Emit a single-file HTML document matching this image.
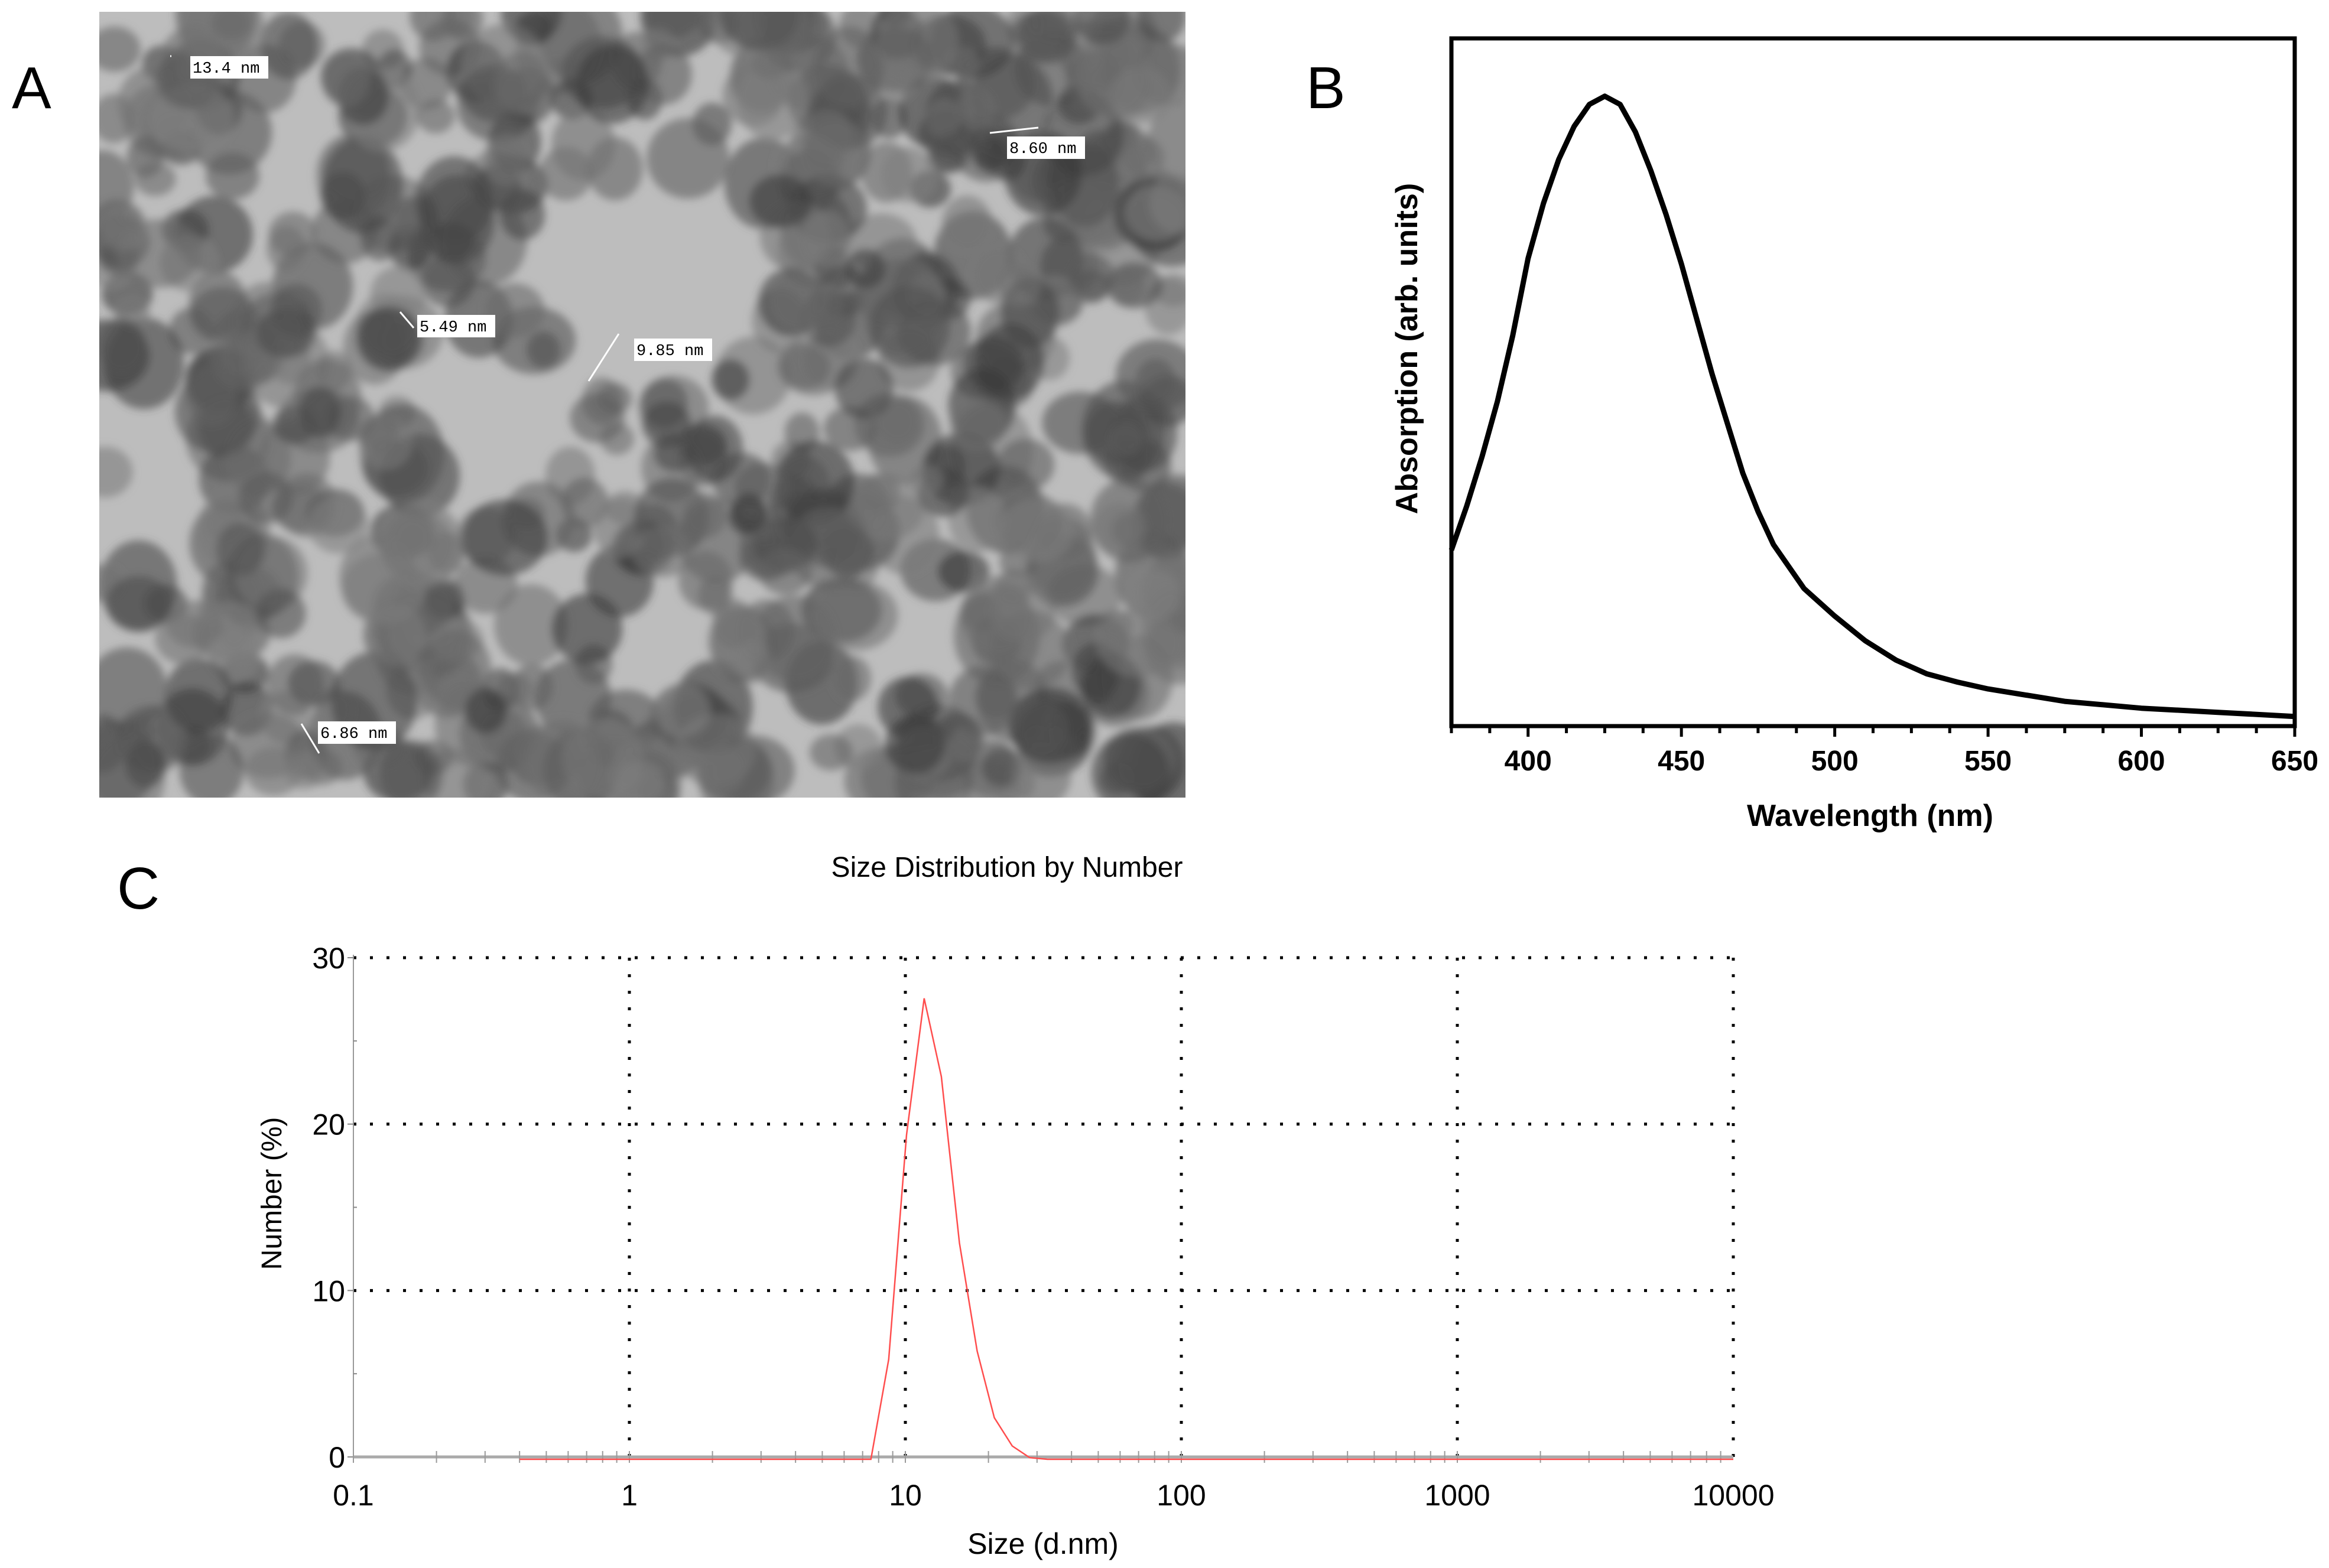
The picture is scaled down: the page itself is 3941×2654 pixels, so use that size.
<!DOCTYPE html>
<html><head><meta charset="utf-8"><style>
html,body{margin:0;padding:0;background:#fff;}
svg{display:block;}
</style></head><body>
<svg id="fig" width="3941" height="2654" viewBox="0 0 3941 2654" xmlns="http://www.w3.org/2000/svg">
<defs>
<filter id="blur" x="-10%" y="-10%" width="120%" height="120%"><feGaussianBlur stdDeviation="7"/></filter>
<clipPath id="photoClip"><rect x="168" y="20" width="1838" height="1330"/></clipPath>
</defs>
<text x="20" y="183" font-family="Liberation Sans, sans-serif" font-size="100">A</text>
<text x="2210" y="183" font-family="Liberation Sans, sans-serif" font-size="100">B</text>
<text x="198" y="1538" font-family="Liberation Sans, sans-serif" font-size="100">C</text>
<g id="photo" clip-path="url(#photoClip)">
<rect x="168" y="20" width="1838" height="1330" fill="#bdbdbd"/>
<g id="blobs" filter="url(#blur)"></g>
<g id="marks"></g>
</g>
<g id="chartB"></g>
<g id="chartC"></g>
</svg>
<script>
// ---------- Chart B data ----------
const wavelengths = [375,380,385,390,395,400,405,410,415,420,425,430,435,440,445,450,455,460,465,470,475,480,490,500,510,520,530,540,550,575,600,625,650];
const absorption = [25.6,32,39.2,47.2,56.8,68,76,82.4,87.2,90.4,91.6,90.4,86.4,80.8,74.4,67.2,59.2,51.2,44,36.8,31.2,26.4,20,16,12.4,9.6,7.6,6.4,5.4,3.6,2.6,2,1.4];
const bTicks = [400,450,500,550,600,650];
// ---------- Chart C data ----------
const sizes = [0.4,7.5,8.7,10.1,11.7,13.5,15.7,18.2,21,24.4,28.2,32.7,40,10000];
const numberPct = [0,0,6,19.5,27.7,23,13,6.5,2.5,0.8,0.1,0,0,0];
const cXTicks = [0.1,1,10,100,1000,10000];
const cXTickLabels = ["0.1","1","10","100","1000","10000"];
const cYTicks = [0,10,20,30];
const cYMinor = [5,15,25];

const NS="http://www.w3.org/2000/svg";
function mk(tag,attrs,parent,text){const e=document.createElementNS(NS,tag);for(const k in attrs)e.setAttribute(k,attrs[k]);if(text!==undefined)e.textContent=text;parent.appendChild(e);return e;}

// ---------- TEM photo (decorative texture) ----------
(function(){
  const g=document.getElementById('blobs');
  let s=12345;function rnd(){s=(s*1103515245+12345)%2147483648;return s/2147483648;}
  const light=[[1105,480,220,200],[830,730,150,120],[276,840,100,150],[1130,1110,120,80],[1560,1100,90,70]];
  for(let i=0;i<650;i++){
    const cx=168+rnd()*1838, cy=20+rnd()*1330;
    let skip=false;
    for(const L of light){const dx=(cx-L[0])/L[2],dy=(cy-L[1])/L[3];if(dx*dx+dy*dy<1)skip=true;}
    if(skip)continue;
    const r=28+rnd()*45, v=Math.floor(55+rnd()*75);
    const e=mk('ellipse',{cx:cx,cy:cy,rx:r,ry:r*(0.8+rnd()*0.4),fill:`rgb(${v},${v},${v})`,'fill-opacity':0.6},g);
    
    
  }
  const m=document.getElementById('marks');
  const labels=[["13.4 nm",322,95,288,95,290,95],["8.60 nm",1704,231,1675,225,1757,216],["5.49 nm",706,533,677,528,700,555],["9.85 nm",1073,573,1047,565,996,645],["6.86 nm",538,1221,510,1225,540,1275]];
  labels.forEach(L=>{
    const l=mk('line',{x1:L[3],y1:L[4],x2:L[5],y2:L[6],stroke:'#fff','stroke-width':3},m);
    
    
    mk('rect',{x:L[1],y:L[2],width:132,height:38,fill:'#fff'},m);
    const t=mk('text',{x:L[1]+4,y:L[2]+28,'font-family':'Liberation Mono, monospace','font-size':27,fill:'#000'},m,L[0]);
    
    
  });
})();

// ---------- Chart B ----------
(function(){
  const g=document.getElementById('chartB');
  const L=2456,R=3883,T=65,B=1229;
  const xs=v=>L+(v-375)/(650-375)*(R-L);
  const ys=v=>B-v/100*(B-T);
  mk('rect',{x:L,y:T,width:R-L,height:B-T,fill:'none',stroke:'#000','stroke-width':7},g);
  for(let v=375;v<=650;v+=12.5){
    const major=(v%50===0);
    const tk=mk('line',{x1:xs(v),y1:B,x2:xs(v),y2:B+(major?18:12),stroke:'#000','stroke-width':5},g);
    
    
  }
  bTicks.forEach(v=>{
    const t=mk('text',{x:xs(v),y:B+75,'text-anchor':'middle','font-family':'Liberation Sans, sans-serif','font-weight':'bold','font-size':48},g,String(v));
    
    
  });
  const d=wavelengths.map((w,i)=>(i?'L':'M')+xs(w).toFixed(1)+','+ys(absorption[i]).toFixed(1)).join(' ');
  const p=mk('path',{d:d,fill:'none',stroke:'#000','stroke-width':9,'stroke-linejoin':'round'},g);
  
  
  const xt=mk('text',{x:(L+R)/2-5,y:1398,'text-anchor':'middle','font-family':'Liberation Sans, sans-serif','font-weight':'bold','font-size':52},g,'Wavelength (nm)');
  
  
  const yt=mk('text',{x:0,y:0,transform:`translate(2398,590) rotate(-90)`,'text-anchor':'middle','font-family':'Liberation Sans, sans-serif','font-weight':'bold','font-size':52},g,'Absorption (arb. units)');
  
  
})();

// ---------- Chart C ----------
(function(){
  const g=document.getElementById('chartC');
  const L=598,R=2933,T=1621,B=2466;
  const xs=v=>L+(Math.log10(v)+1)/5*(R-L);
  const ys=v=>B-v/30*(B-T);
  const title=mk('text',{x:1704,y:1484,'text-anchor':'middle','font-family':'Liberation Sans, sans-serif','font-size':48},g,'Size Distribution by Number');
  
  
  cXTicks.slice(1).forEach(v=>{
    const l=mk('line',{x1:xs(v),y1:T,x2:xs(v),y2:B,stroke:'#000','stroke-width':5,'stroke-dasharray':'5 23'},g);
    
    
  });
  cYTicks.slice(1).forEach(v=>{
    const l=mk('line',{x1:L,y1:ys(v),x2:R,y2:ys(v),stroke:'#000','stroke-width':5,'stroke-dasharray':'5 23'},g);
    
    
  });
  mk('line',{x1:L,y1:T-5,x2:L,y2:B,stroke:'#999','stroke-width':2},g);
  mk('line',{x1:L,y1:B,x2:R,y2:B,stroke:'#aaa','stroke-width':5},g);
  cYTicks.forEach(v=>{
    mk('line',{x1:L-10,y1:ys(v),x2:L,y2:ys(v),stroke:'#888','stroke-width':2},g);
    const t=mk('text',{x:L-14,y:ys(v)+18,'text-anchor':'end','font-family':'Liberation Sans, sans-serif','font-size':50},g,String(v));
    
    
  });
  cYMinor.forEach(v=>{mk('line',{x1:L,y1:ys(v),x2:L+6,y2:ys(v),stroke:'#888','stroke-width':2},g);});
  for(let e=-1;e<4;e++){for(let k=1;k<10;k++){const v=k*Math.pow(10,e);
    const tk=mk('line',{x1:xs(v),y1:B-10,x2:xs(v),y2:B+10,stroke:'#999','stroke-width':2},g);
    
    }}
  cXTicks.forEach((v,i)=>{
    const t=mk('text',{x:xs(v),y:2548,'text-anchor':'middle','font-family':'Liberation Sans, sans-serif','font-size':50},g,cXTickLabels[i]);
    
    
  });
  const d=sizes.map((s,i)=>(i?'L':'M')+xs(s).toFixed(1)+','+(ys(numberPct[i])+4).toFixed(1)).join(' ');
  const p=mk('path',{d:d,fill:'none',stroke:'#ff4d4d','stroke-width':2.5},g);
  
  
  const xt=mk('text',{x:1765,y:2630,'text-anchor':'middle','font-family':'Liberation Sans, sans-serif','font-size':50},g,'Size (d.nm)');
  
  
  const yt=mk('text',{x:0,y:0,transform:'translate(476,2020) rotate(-90)','text-anchor':'middle','font-family':'Liberation Sans, sans-serif','font-size':48},g,'Number (%)');
  
  
})();
</script>
</body></html>
